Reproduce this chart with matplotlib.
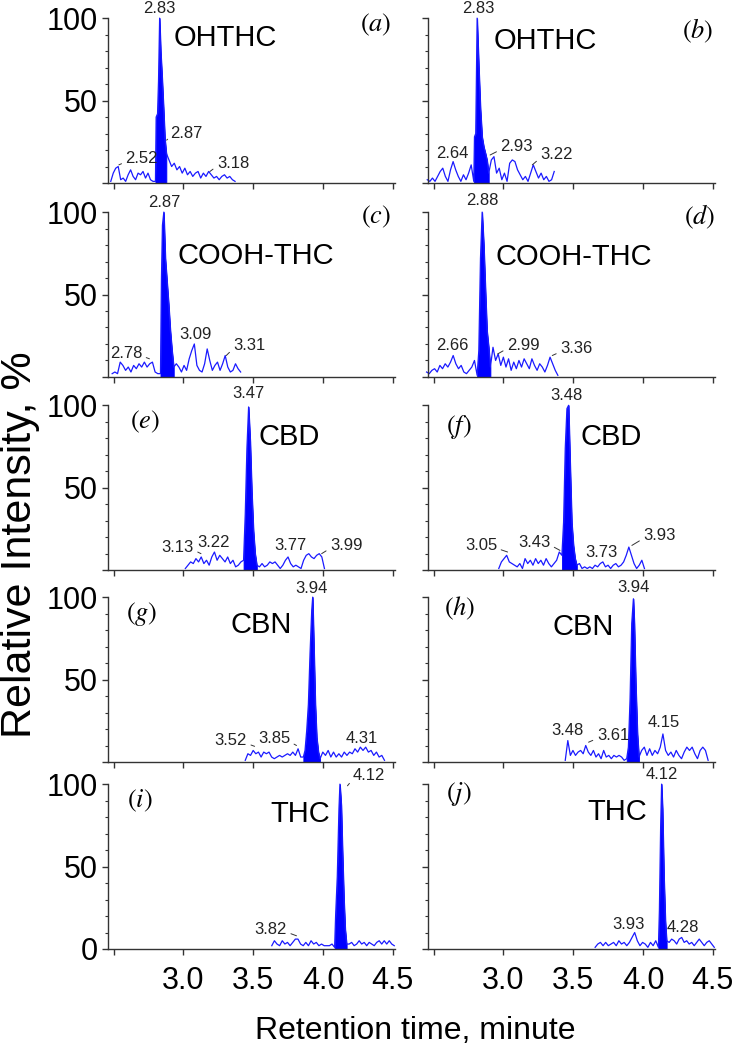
import numpy as np
import matplotlib.pyplot as plt

plt.rcParams['font.family'] = ['Liberation Sans', 'DejaVu Sans']
plt.rcParams['mathtext.fontset'] = 'stix'

# each trace: noise before the peak, the peak itself, noise after the peak
# (a) OHTHC
a_span = [2.48, 3.37]
a_pre = [1, 6, 9, 10, 2, 3, 1, 5, 8, 4, 2, 6, 5, 7, 3, 6, 2, 1]
a_peak_t = [2.800, 2.805, 2.815, 2.822, 2.830, 2.838, 2.848, 2.858, 2.868, 2.878]
a_peak = [1, 40, 42, 62, 100, 80, 64, 46, 27, 18]
a_post = [14, 10, 12, 8, 10, 6, 9, 5, 7, 4, 6, 7, 3, 6, 4, 7, 5, 3, 4, 2, 4, 5, 3, 4, 2, 1]
a_labels = [("2.83", 2.83, 106, None, None), ("2.87", 2.907, 30, 2.88, 26),
            ("2.52", 2.586, 14.6, 2.538, 11), ("3.18", 3.24, 12, 3.19, 7)]

# (b) OHTHC
b_span = [2.455, 3.364]
b_pre = [2, 1, 3, 1, 4, 7, 9, 4, 1, 8, 13, 8, 4, 1, 5, 2, 6, 11]
b_peak_t = [2.788, 2.793, 2.802, 2.812, 2.824, 2.836, 2.848, 2.860, 2.872, 2.883, 2.895]
b_peak = [1, 28, 30, 100, 71, 45, 28, 22, 18, 14, 6]
b_post = [14, 16, 6, 9, 2, 6, 1, 12, 14, 13, 8, 5, 2, 4, 1, 6, 11, 7, 3, 6, 2, 4, 1, 2, 7]
b_labels = [("2.83", 2.824, 106, None, None), ("2.64", 2.636, 18, None, None),
            ("2.93", 2.979, 22, 2.905, 17), ("3.22", 3.264, 17, 3.207, 11)]

# (c) COOH-THC
c_span = [2.49, 3.41]
c_pre = [2, 3, 2, 9, 7, 4, 6, 3, 7, 5, 8, 6, 9, 6, 8, 9, 3, 2]
c_peak_t = [2.836, 2.843, 2.850, 2.860, 2.871, 2.883, 2.895, 2.907, 2.919, 2.931]
c_peak = [2, 60, 92, 100, 72, 58, 44, 28, 16, 6]
c_post = [8, 6, 3, 7, 4, 11, 16, 20, 7, 4, 3, 8, 17, 10, 4, 7, 9, 4, 8, 13, 6, 3, 4, 8, 5, 3]
c_labels = [("2.87", 2.86, 106, None, None), ("2.78", 2.705, 14.5, 2.757, 11),
            ("3.09", 3.086, 26, None, None), ("3.31", 3.357, 19, 3.307, 13)]

# (d) COOH-THC
d_span = [2.45, 3.39]
d_pre = [3, 2, 4, 5, 3, 7, 5, 8, 6, 9, 13, 8, 5, 7, 3, 2, 4, 6, 10]
d_peak_t = [2.812, 2.824, 2.836, 2.848, 2.860, 2.872, 2.883, 2.895, 2.907]
d_peak = [1, 16, 72, 100, 80, 52, 28, 18, 6]
d_post = [18, 10, 14, 7, 12, 6, 11, 4, 9, 5, 10, 6, 11, 8, 5, 11, 7, 4, 8, 6, 3, 7, 12, 8, 4, 1]
d_labels = [("2.88", 2.848, 107, None, None), ("2.66", 2.633, 19, None, None),
            ("2.99", 3.026, 19, 2.96, 14), ("3.36", 3.407, 17, 3.35, 13)]

# (e) CBD
e_span = [3.014, 4.01]
e_pre = [1, 3, 5, 4, 7, 5, 8, 4, 6, 3, 8, 11, 6, 9, 7, 5, 8, 4, 6, 2, 3, 5]
e_peak_t = [3.431, 3.443, 3.455, 3.467, 3.479, 3.490, 3.502, 3.514, 3.526]
e_peak = [6, 34, 74, 99, 78, 48, 24, 10, 3]
e_post = [2, 4, 2, 3, 5, 4, 5, 3, 1, 3, 6, 8, 4, 2, 3, 2, 1, 6, 9, 10, 8, 7, 9, 10, 8, 1]
e_labels = [("3.47", 3.467, 107, None, None), ("3.13", 3.074, 14, 3.126, 10),
            ("3.22", 3.216, 17, None, None), ("3.77", 3.764, 15, None, None),
            ("3.99", 4.05, 15, 3.99, 10)]

# (f) CBD
f_span = [2.967, 4.01]
f_pre = [1, 5, 7, 9, 5, 4, 3, 2, 4, 1, 7, 4, 6, 3, 7, 4, 6, 3, 7, 4, 2, 4, 6, 11]
f_peak_t = [3.419, 3.431, 3.443, 3.455, 3.467, 3.479, 3.490, 3.502, 3.514, 3.526]
f_peak = [9, 29, 74, 98, 100, 62, 29, 15, 7, 3]
f_post = [4, 1, 2, 1, 2, 1, 3, 2, 4, 5, 2, 3, 1, 3, 4, 2, 3, 5, 9, 14, 9, 4, 1, 3, 6, 1]
f_labels = [("3.48", 3.455, 106, None, None), ("3.05", 2.955, 15, 3.03, 11),
            ("3.43", 3.336, 17, 3.405, 12), ("3.73", 3.705, 11, None, None),
            ("3.93", 4.002, 21, 3.92, 15)]

# (g) CBN
g_span = [3.443, 4.44]
g_pre = [1, 5, 4, 7, 5, 6, 3, 6, 5, 6, 3, 2, 3, 4, 3, 4, 5, 4, 6, 4, 8, 3]
g_peak_t = [3.859, 3.871, 3.883, 3.895, 3.907, 3.919, 3.926, 3.936, 3.945, 3.955, 3.967, 3.979]
g_peak = [3, 7, 19, 35, 66, 92, 100, 66, 35, 15, 6, 2]
g_post = [6, 4, 7, 3, 6, 3, 5, 3, 6, 4, 6, 5, 8, 6, 9, 7, 9, 6, 7, 4, 6, 3, 4, 1]
g_labels = [("3.94", 3.919, 105.5, None, None), ("3.52", 3.455, 13, 3.51, 9.5),
            ("3.85", 3.764, 14, 3.81, 10), ("4.31", 4.276, 14, None, None)]

# (h) CBN
h_span = [3.443, 4.466]
h_pre = [1, 13, 4, 7, 4, 6, 7, 5, 10, 6, 4, 7, 3, 5, 2, 7, 3, 4, 2, 4, 3, 4, 3, 1]
h_peak_t = [3.883, 3.895, 3.907, 3.919, 3.931, 3.938, 3.948, 3.960, 3.971]
h_peak = [2, 9, 38, 84, 99, 84, 48, 17, 3]
h_post = [7, 9, 4, 8, 4, 7, 5, 9, 17, 7, 4, 6, 3, 7, 4, 2, 6, 9, 7, 9, 5, 2, 7, 9, 7, 1]
h_labels = [("3.94", 3.931, 106, None, None), ("3.48", 3.459, 19, None, None),
            ("3.61", 3.669, 16, 3.61, 12), ("4.15", 4.145, 24, None, None)]

# (i) THC
i_span = [3.633, 4.51]
i_pre = [2, 5, 3, 2, 5, 3, 4, 2, 4, 6, 6, 3, 2, 4, 2, 5, 3, 4, 2, 3, 2, 2, 2, 3]
i_peak_t = [4.083, 4.090, 4.102, 4.114, 4.121, 4.131, 4.140, 4.150, 4.159, 4.169]
i_peak = [1, 20, 44, 85, 100, 87, 58, 30, 12, 3]
i_post = [3, 4, 2, 3, 5, 3, 4, 2, 4, 3, 2, 4, 5, 3, 5, 3, 5, 3, 2]
i_labels = [("4.12", 4.215, 105, 4.175, 99), ("3.82", 3.741, 12, 3.81, 8)]

# (j) THC
j_span = [3.657, 4.51]
j_pre = [1, 3, 4, 2, 4, 2, 3, 4, 2, 5, 3, 4, 2, 4, 7, 10, 5, 2, 4, 3, 1, 4, 2, 5]
j_peak_t = [4.110, 4.117, 4.126, 4.133, 4.140, 4.150, 4.160, 4.169]
j_peak = [1, 23, 74, 100, 85, 44, 17, 5]
j_post = [4, 6, 5, 3, 6, 7, 4, 5, 3, 4, 2, 4, 6, 4, 2, 4, 5, 3, 1]
j_labels = [("4.12", 4.134, 106, None, None), ("3.93", 3.895, 15, None, None),
            ("4.28", 4.288, 13, None, None)]

compounds = ["OHTHC", "OHTHC", "COOH-THC", "COOH-THC", "CBD", "CBD",
             "CBN", "CBN", "THC", "THC"]
name_pos = [(2.93, 88), (2.93, 86), (2.957, 73.5), (2.943, 73), (3.536, 81),
            (3.55, 81), (3.336, 83), (3.35, 82), (3.62, 82), (3.60, 83)]
letters = ["a", "b", "c", "d", "e", "f", "g", "h", "i", "j"]
letter_pos = [(0.934, 0.96), (0.94, 0.92), (0.934, 0.97), (0.948, 0.97), (0.129, 0.90),
              (0.108, 0.87), (0.118, 0.90), (0.111, 0.93), (0.11, 0.90), (0.108, 0.94)]

traces = [
    (a_span, a_pre, a_peak_t, a_peak, a_post, a_labels),
    (b_span, b_pre, b_peak_t, b_peak, b_post, b_labels),
    (c_span, c_pre, c_peak_t, c_peak, c_post, c_labels),
    (d_span, d_pre, d_peak_t, d_peak, d_post, d_labels),
    (e_span, e_pre, e_peak_t, e_peak, e_post, e_labels),
    (f_span, f_pre, f_peak_t, f_peak, f_post, f_labels),
    (g_span, g_pre, g_peak_t, g_peak, g_post, g_labels),
    (h_span, h_pre, h_peak_t, h_peak, h_post, h_labels),
    (i_span, i_pre, i_peak_t, i_peak, i_post, i_labels),
    (j_span, j_pre, j_peak_t, j_peak, j_post, j_labels),
]

fig = plt.figure(figsize=(7.37, 10.5), dpi=100)
lefts = [0.1465, 0.5807]
bottoms = [0.8257, 0.641, 0.457, 0.2743, 0.0962]
w, h = 0.3894, 0.157

for k, (span, pre, pk_t, pk, post, labels) in enumerate(traces):
    row, col = k // 2, k % 2
    ax = fig.add_axes([lefts[col], bottoms[row], w, h])

    pre_t = np.linspace(span[0], pk_t[0], len(pre), endpoint=False)
    post_t = np.linspace(pk_t[-1], span[1], len(post) + 1)[1:]
    t = np.concatenate([pre_t, pk_t, post_t])
    y = np.concatenate([pre, pk, post])
    ax.plot(t, y, color='#1a1aff', lw=0.9, clip_on=False)
    ax.fill_between(pk_t, 0, pk, color='#0000ff', lw=0.6, edgecolor='#0000ff')

    for txt, tx, ty, px, py in labels:
        if px is None:
            ax.text(tx, ty, txt, fontsize=12, ha='center', va='center', color='#222222')
        elif px < tx:
            ax.annotate(txt, xy=(px, py), xytext=(tx, ty), fontsize=12, ha='left',
                        va='center', color='#222222', annotation_clip=False,
                        arrowprops=dict(arrowstyle='-', color='#333333', lw=0.7,
                                        shrinkA=1, shrinkB=0, relpos=(0, 0.3)))
        else:
            ax.annotate(txt, xy=(px, py), xytext=(tx, ty), fontsize=12, ha='right',
                        va='center', color='#222222', annotation_clip=False,
                        arrowprops=dict(arrowstyle='-', color='#333333', lw=0.7,
                                        shrinkA=1, shrinkB=0, relpos=(1, 0.3)))

    nx, ny = name_pos[k]
    ax.text(nx, ny, compounds[k], fontsize=21, ha='left', va='center')
    lx, ly = letter_pos[k]
    ax.text(lx, ly, '$(' + letters[k] + ')$', fontsize=19, ha='center', va='center',
            transform=ax.transAxes)

    ax.set_xlim(2.46, 4.515)
    ax.set_ylim(0, 100)
    for s in ['top', 'right']:
        ax.spines[s].set_visible(False)
    for s in ['left', 'bottom']:
        ax.spines[s].set_color('#333333')
        ax.spines[s].set_linewidth(1.0)

    ax.set_xticks([2.5, 3.0, 3.5, 4.0, 4.5])
    if row == 4:
        ax.set_xticklabels(['', '3.0', '3.5', '4.0', '4.5'], fontsize=22)
    else:
        ax.set_xticklabels([])
    ax.set_yticks([0, 50, 100])
    ax.set_yticks(np.arange(0, 101, 10), minor=True)
    if col == 0:
        ax.set_yticklabels(['0' if row == 4 else '', '50', '100'], fontsize=22)
    else:
        ax.set_yticklabels([])
    ax.tick_params(axis='both', which='major', length=4, width=1, color='#333333', pad=3)
    ax.tick_params(axis='y', which='minor', length=2, width=0.8, color='#333333')
    ax.tick_params(axis='x', which='major', pad=8)

fig.text(0.027, 0.481, 'Relative Intensity, %', rotation=90, fontsize=31,
         ha='center', va='center')
fig.text(0.563, 0.018, 'Retention time, minute', fontsize=23, ha='center', va='center')

fig.savefig('out.png', dpi=100)
